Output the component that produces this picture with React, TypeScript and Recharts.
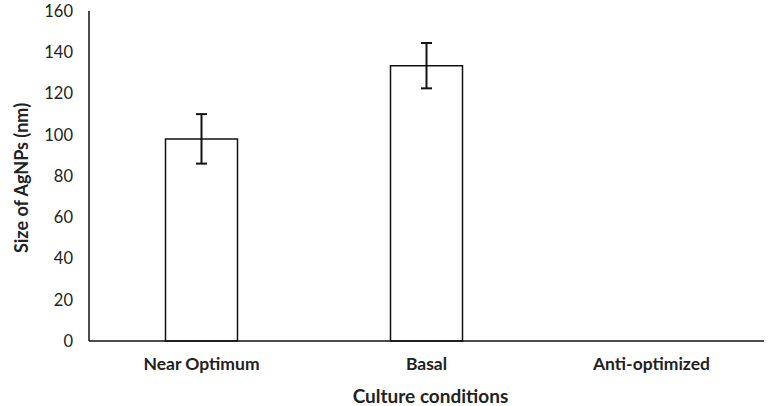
import React from 'react';
import { BarChart, Bar, XAxis, YAxis, ErrorBar, Label } from 'recharts';

const categories = ['Near Optimum', 'Basal', 'Anti-optimized'];
const sizes = [98, 133.5, null];
const errors = [12, 11, null];
const yTicks = [0, 20, 40, 60, 80, 100, 120, 140, 160];

const data = categories.map((name, i) => ({ name, size: sizes[i], err: errors[i] }));

const font = 'Lato, "Open Sans", sans-serif';

export default function App() {
  return (
    <div style={{ position: 'absolute', left: 0, top: 0, width: 770, height: 406, background: '#fff' }}>
      <BarChart
        width={770}
        height={406}
        data={data}
        margin={{ top: 11, right: 6, bottom: 0, left: 0 }}
        barCategoryGap="34%"
      >
        {/* Size axis */}
        <YAxis
          width={89}
          domain={[0, 160]}
          ticks={yTicks}
          interval={0}
          tickLine={false}
          tickSize={0}
          tickMargin={16}
          axisLine={{ stroke: '#111', strokeWidth: 1.5 }}
          tick={{ fill: '#222', fontSize: 16.5, fontFamily: font }}
        >
          <Label
            value="Size of AgNPs (nm)"
            angle={-90}
            position="center"
            dx={-23}
            dy={2}
            style={{ fill: '#222', fontSize: 18, fontWeight: 700, fontFamily: font }}
          />
        </YAxis>
        <XAxis
          dataKey="name"
          height={65}
          tickLine={false}
          tickSize={0}
          tickMargin={17}
          axisLine={{ stroke: '#111', strokeWidth: 1.5 }}
          tick={{ fill: '#222', fontSize: 17.5, fontWeight: 700, fontFamily: font }}
        >
          <Label
            value="Culture conditions"
            position="insideBottom"
            offset={3}
            dx={4}
            style={{ fill: '#222', fontSize: 19, fontWeight: 700, fontFamily: font }}
          />
        </XAxis>
        <Bar dataKey="size" fill="#fff" stroke="#111" strokeWidth={1.5} isAnimationActive={false}>
          <ErrorBar dataKey="err" width={5.5} stroke="#111" strokeWidth={2} isAnimationActive={false} />
        </Bar>
      </BarChart>
    </div>
  );
}
